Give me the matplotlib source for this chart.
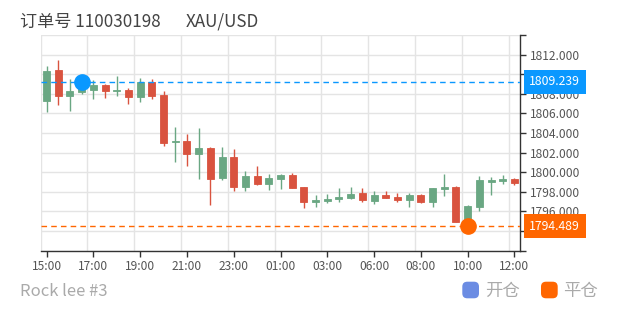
import matplotlib
matplotlib.use("Agg")
import matplotlib.pyplot as plt
import matplotlib.transforms as mtransforms
from matplotlib.patches import FancyBboxPatch
import numpy as np

plt.rcParams["font.family"] = ["Noto Sans CJK SC", "DejaVu Sans"]

# 30-minute candles, XAU/USD
opens = [1807.24, 1810.44, 1807.82, 1808.16, 1808.42, 1808.86, 1808.24, 1808.37, 1807.68, 1809.18,
         1807.89, 1803.06, 1803.22, 1801.90, 1802.48, 1799.37, 1801.56, 1798.50, 1799.62, 1798.78,
         1799.35, 1799.67, 1798.45, 1797.00, 1797.04, 1797.28, 1797.35, 1797.89, 1797.07, 1797.68,
         1797.48, 1797.17, 1797.68, 1796.94, 1798.30, 1798.47, 1794.93, 1796.43, 1799.04, 1799.11,
         1799.29]
closes = [1810.37, 1807.82, 1808.30, 1808.57, 1808.89, 1808.33, 1808.40, 1807.71, 1809.18, 1807.82,
          1803.02, 1803.19, 1801.90, 1802.48, 1799.32, 1801.56, 1798.47, 1799.57, 1798.76, 1799.42,
          1799.69, 1798.37, 1797.00, 1797.17, 1797.31, 1797.48, 1797.82, 1797.17, 1797.68, 1797.41,
          1797.17, 1797.68, 1796.94, 1798.37, 1798.47, 1794.93, 1796.53, 1799.21, 1799.21, 1799.32,
          1798.88]
highs = [1810.85, 1811.46, 1809.52, 1809.30, 1809.37, 1809.01, 1809.86, 1808.57, 1809.59, 1809.49,
         1808.30, 1804.62, 1803.88, 1804.55, 1802.58, 1802.55, 1802.38, 1800.13, 1800.67, 1799.83,
         1799.83, 1799.93, 1798.53, 1797.68, 1797.76, 1798.40, 1798.53, 1798.40, 1798.06, 1798.06,
         1797.89, 1797.86, 1797.79, 1798.40, 1799.83, 1798.57, 1796.63, 1799.62, 1799.55, 1799.72,
         1799.42]
lows = [1806.12, 1806.87, 1806.29, 1807.99, 1807.43, 1807.55, 1807.82, 1806.94, 1807.20, 1807.51,
        1802.65, 1801.08, 1800.64, 1799.35, 1796.66, 1799.24, 1798.12, 1798.09, 1798.74, 1798.19,
        1798.30, 1798.37, 1796.33, 1796.49, 1796.90, 1796.94, 1797.28, 1797.00, 1796.77, 1797.41,
        1797.00, 1796.49, 1796.90, 1796.49, 1797.61, 1794.93, 1794.49, 1796.08, 1797.71, 1798.84,
        1798.67]
tick_labels = ["15:00", "17:00", "19:00", "21:00", "23:00", "01:00",
               "03:00", "06:00", "08:00", "10:00", "12:00"]

open_idx, open_price = 3, 1809.239
close_idx, close_price = 36, 1794.489

UP = "#6aa783"
DOWN = "#d9533f"
BLUE = "#0a98ff"
ORANGE = "#ff6600"
GRID = "#e4e4e4"
AXIS = "#333333"

W, H = 620, 310
fig = plt.figure(figsize=(W / 100, H / 100), dpi=100)
ax = fig.add_axes([40.7 / W, 1 - 250.7 / H, 479.6 / W, 215.7 / H])

n = len(opens)
x = np.arange(n)
for i in x:
    o, c = opens[i], closes[i]
    col = UP if c >= o else DOWN
    ax.vlines(i, lows[i], highs[i], color=col, lw=1, zorder=3)
    ax.bar(i, abs(c - o), bottom=min(o, c), width=0.6, color=col,
           edgecolor=col, linewidth=0.6, zorder=4)

ax.set_xlim(-0.5, n - 0.5)
ax.set_ylim(1792, 1814)

# x axis: labels at candle centres every 4 bars, grid at band edges
ax.set_xticks(x[::4])
ax.set_xticklabels(tick_labels)
ax.set_xticks(np.arange(-0.5, n - 1, 4), minor=True)
ax.grid(True, which="minor", axis="x", color=GRID, lw=1)
ax.tick_params(axis="x", which="minor", length=0)
ax.tick_params(axis="x", which="major", length=4, width=1, color=AXIS,
               labelsize=8.6, labelcolor="#555555", pad=3)

# y axis on the right
ax.yaxis.tick_right()
yt = np.arange(1792, 1815, 2)
ax.set_yticks(yt)
ax.set_yticklabels([f"{v:.3f}" if 1796 <= v <= 1812 else "" for v in yt])
ax.grid(True, which="major", axis="y", color=GRID, lw=1)
ax.tick_params(axis="y", length=4, width=1, color=AXIS,
               labelsize=8.6, labelcolor="#555555", pad=3)
ax.set_axisbelow(True)

for s in ["top", "left"]:
    ax.spines[s].set_visible(False)
for s in ["right", "bottom"]:
    ax.spines[s].set_color(AXIS)
    ax.spines[s].set_linewidth(1)

# trade lines, markers and price tags
for idx, price, col in [(open_idx, open_price, BLUE), (close_idx, close_price, ORANGE)]:
    ax.axhline(price, color=col, lw=1, ls=(0, (4, 3)), zorder=5)
    ax.plot(idx, price, "o", ms=11, color=col, mec=col, zorder=6, clip_on=False)
    ax.annotate(f"{price:.3f}", xy=(1, price), xycoords=("axes fraction", "data"),
                xytext=(9, 0), textcoords="offset pixels", ha="left", va="center",
                color="white", fontsize=8.8, annotation_clip=False, zorder=10,
                bbox=dict(boxstyle="square,pad=0.45", fc=col, ec="none"))

# header and footer
fig.text(20.5 / W, 1 - 22 / H, "订单号 110030198", fontsize=12.3, color="#444444",
         ha="left", va="center")
fig.text(186 / W, 1 - 22 / H, "XAU/USD", fontsize=12.3, color="#444444",
         ha="left", va="center")
fig.text(20.5 / W, 1 - 291.5 / H, "Rock lee #3", fontsize=12, color="#aaaaaa",
         ha="left", va="center")

for x0, col, label in [(462.3, "#6b8ce3", "开仓"), (541, ORANGE, "平仓")]:
    box = FancyBboxPatch((x0 / W, 1 - 298.3 / H), 16.7 / W, 16.6 / H,
                         boxstyle="round,pad=0,rounding_size=0.008",
                         transform=fig.transFigure, fc=col, ec="none",
                         mutation_aspect=W / H)
    fig.patches.append(box)
    fig.text((x0 + 22.5) / W, 1 - 291 / H, label, fontsize=12.5, color="#aaaaaa",
             ha="left", va="center")

fig.savefig("out.png", dpi=100)
